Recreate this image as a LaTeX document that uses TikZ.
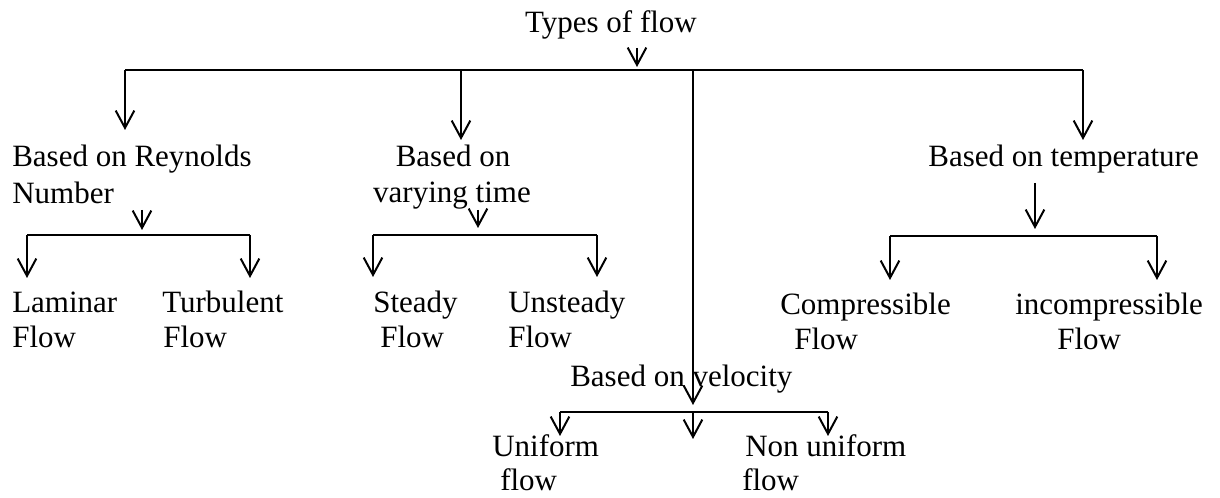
\documentclass[tikz,border=0pt]{standalone}
\usepackage{fontspec}
\setmainfont{Liberation Serif}
\usetikzlibrary{arrows.meta}
\begin{document}
\begin{tikzpicture}[x=0.75pt,y=-0.75pt,
  lbl/.style={inner sep=0pt, font=\fontsize{23.25}{28}\selectfont},
  ln/.style={line width=1.5pt},
  arr/.style={ln,-{Straight Barb[length=13pt,width=14pt,line width=1.5pt]}}]
\useasboundingbox (0,0) rectangle (1220,498);
% texts
\node[lbl,anchor=base] (title) at (611,33) {Types of flow};
\node[lbl,anchor=base west] (rey1) at (12,167) {Based on Reynolds};
\node[lbl,anchor=base west] (rey2) at (12,204) {Number};
\node[lbl,anchor=base] (var1) at (453,167) {Based on};
\node[lbl,anchor=base] (var2) at (452,203) {varying time};
\node[lbl,anchor=base east] (tem) at (1199,167) {Based on temperature};
\node[lbl,anchor=base west] (lam1) at (12,313) {Laminar};
\node[lbl,anchor=base west] (lam2) at (12,348) {Flow};
\node[lbl,anchor=base west] (tur1) at (162,313) {Turbulent};
\node[lbl,anchor=base west] (tur2) at (163,348) {Flow};
\node[lbl,anchor=base west] (ste1) at (373,313) {Steady};
\node[lbl,anchor=base west] (ste2) at (380,348) {Flow};
\node[lbl,anchor=base west] (uns1) at (508,313) {Unsteady};
\node[lbl,anchor=base west] (uns2) at (508,348) {Flow};
\node[lbl,anchor=base west] (com1) at (780,315) {Compressible};
\node[lbl,anchor=base west] (com2) at (794,350) {Flow};
\node[lbl,anchor=base west] (inc1) at (1015,315) {incompressible};
\node[lbl,anchor=base west] (inc2) at (1057,350) {Flow};
\node[lbl,anchor=base west] (vel) at (570,387) {Based on velocity};
\node[lbl,anchor=base west] (uni1) at (492,456) {Uniform};
\node[lbl,anchor=base west] (uni2) at (500,490) {flow};
\node[lbl,anchor=base west] (non1) at (745,456) {Non uniform};
\node[lbl,anchor=base west] (non2) at (742,490) {flow};
% coordinates
\coordinate (ts) at (637,48);  \coordinate (tt) at (637,67);
\coordinate (mL) at (125,70);  \coordinate (mA) at (461,70);
\coordinate (mV) at (693,70);  \coordinate (mR) at (1083,70);
\coordinate (aRey) at (125,130); \coordinate (aVar) at (461,140);
\coordinate (aTem) at (1083,140); \coordinate (aVel) at (693,405);
% reynolds sub
\coordinate (rs) at (142,210); \coordinate (rt) at (142,230);
\coordinate (rL) at (27,235);  \coordinate (rR) at (250,235);
\coordinate (rLt) at (27,278); \coordinate (rRt) at (250,278);
% varying sub
\coordinate (vs) at (478,210); \coordinate (vt) at (478,228);
\coordinate (vL) at (373,235); \coordinate (vR) at (597,235);
\coordinate (vLt) at (373,277); \coordinate (vRt) at (597,277);
% temperature sub
\coordinate (es) at (1035,183); \coordinate (et) at (1035,229);
\coordinate (eL) at (890,236); \coordinate (eR) at (1157,236);
\coordinate (eLt) at (890,280); \coordinate (eRt) at (1157,280);
% velocity sub
\coordinate (uL) at (560,412); \coordinate (uM) at (693,412); \coordinate (uR) at (828,412);
\coordinate (uLt) at (560,436); \coordinate (uMt) at (693,439); \coordinate (uRt) at (828,436);
% connectors
\draw[arr] (ts) -- (tt);
\draw[ln] (mL) -- (mR);
\draw[arr] (mL) -- (aRey);
\draw[arr] (mA) -- (aVar);
\draw[arr] (mR) -- (aTem);
\draw[arr] (mV) -- (aVel);
\draw[arr] (rs) -- (rt);
\draw[ln] (rL) -- (rR);
\draw[arr] (rL) -- (rLt);
\draw[arr] (rR) -- (rRt);
\draw[arr] (vs) -- (vt);
\draw[ln] (vL) -- (vR);
\draw[arr] (vL) -- (vLt);
\draw[arr] (vR) -- (vRt);
\draw[arr] (es) -- (et);
\draw[ln] (eL) -- (eR);
\draw[arr] (eL) -- (eLt);
\draw[arr] (eR) -- (eRt);
\draw[ln] (uL) -- (uR);
\draw[arr] (uL) -- (uLt);
\draw[arr] (uM) -- (uMt);
\draw[arr] (uR) -- (uRt);
\end{tikzpicture}
\end{document}
